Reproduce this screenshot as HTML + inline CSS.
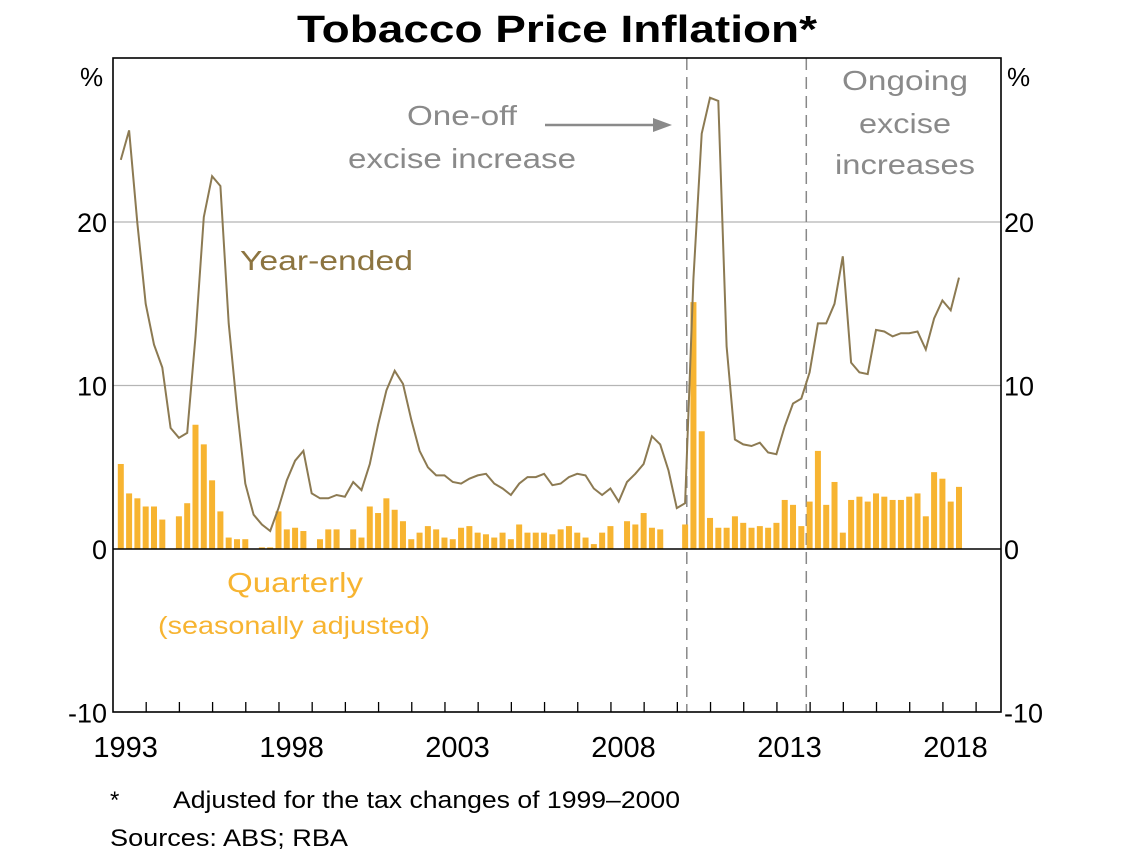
<!DOCTYPE html>
<html><head><meta charset="utf-8"><style>
html,body{margin:0;padding:0;background:#fff;}
svg{display:block;font-family:"Liberation Sans",sans-serif;}
</style></head><body>
<svg id="chart" width="1125" height="857" viewBox="0 0 1125 857" xmlns="http://www.w3.org/2000/svg">
<text x="557" y="42" text-anchor="middle" font-size="38" font-weight="bold" textLength="520" lengthAdjust="spacingAndGlyphs">Tobacco Price Inflation*</text>
<g id="grid"></g>
<g id="bars"></g>
<g id="line"></g>
<g id="axes"></g>
<g fill="#8a8a8a" font-size="28" text-anchor="middle">
<text x="462" y="125" textLength="110" lengthAdjust="spacingAndGlyphs">One-off</text>
<text x="462" y="168" textLength="228" lengthAdjust="spacingAndGlyphs">excise increase</text>
<text x="905" y="90" textLength="126" lengthAdjust="spacingAndGlyphs">Ongoing</text>
<text x="905" y="133" textLength="92" lengthAdjust="spacingAndGlyphs">excise</text>
<text x="905" y="174" textLength="140" lengthAdjust="spacingAndGlyphs">increases</text>
</g>
<g>
<line x1="545" y1="125" x2="655" y2="125" stroke="#8a8a8a" stroke-width="2.5"/>
<polygon points="653,118 672,125 653,132" fill="#8a8a8a"/>
</g>
<text x="240" y="270" font-size="28" fill="#8c7440" textLength="173" lengthAdjust="spacingAndGlyphs">Year-ended</text>
<text x="295" y="592" font-size="28" fill="#f7b431" text-anchor="middle" textLength="136" lengthAdjust="spacingAndGlyphs">Quarterly</text>
<text x="294" y="634" font-size="25" fill="#f7b431" text-anchor="middle" textLength="272" lengthAdjust="spacingAndGlyphs">(seasonally adjusted)</text>
<text x="110" y="808" font-size="24">*</text>
<text x="173" y="808" font-size="24" textLength="507" lengthAdjust="spacingAndGlyphs">Adjusted for the tax changes of 1999–2000</text>
<text x="110" y="846" font-size="24" textLength="238" lengthAdjust="spacingAndGlyphs">Sources:   ABS; RBA</text>
</svg>
<script>
const startYear = 1993;
const yTicks = [-10, 0, 10, 20];
const yearLabels = ["1993","1998","2003","2008","2013","2018"];
const quarterly = [5.2,3.4,3.1,2.6,2.6,1.8,0,2.0,2.8,7.6,6.4,4.2,2.3,0.7,0.6,0.6,0,0.1,0.1,2.3,1.2,1.3,1.1,0,0.6,1.2,1.2,0,1.2,0.7,2.6,2.2,3.1,2.4,1.7,0.6,1.0,1.4,1.2,0.7,0.6,1.3,1.4,1.0,0.9,0.7,1.0,0.6,1.5,1.0,1.0,1.0,0.9,1.2,1.4,1.0,0.7,0.3,1.0,1.4,0,1.7,1.5,2.2,1.3,1.2,0,0,1.5,15.1,7.2,1.9,1.3,1.3,2.0,1.6,1.3,1.4,1.3,1.6,3.0,2.7,1.4,2.9,6.0,2.7,4.1,1.0,3.0,3.2,2.9,3.4,3.2,3.0,3.0,3.2,3.4,2.0,4.7,4.3,2.9,3.8];
const yearEnded = [23.8,25.6,19.9,15.0,12.5,11.1,7.4,6.8,7.1,13.0,20.3,22.8,22.2,13.8,8.6,4.0,2.1,1.5,1.1,2.5,4.2,5.4,6.0,3.4,3.1,3.1,3.3,3.2,4.1,3.6,5.2,7.6,9.7,10.9,10.1,7.9,6.0,5.0,4.5,4.5,4.1,4.0,4.3,4.5,4.6,4.0,3.7,3.3,4.0,4.4,4.4,4.6,3.9,4.0,4.4,4.6,4.5,3.7,3.3,3.7,2.9,4.1,4.6,5.2,6.9,6.4,4.8,2.5,2.8,16.5,25.4,27.6,27.4,12.4,6.7,6.4,6.3,6.5,5.9,5.8,7.5,8.9,9.2,10.8,13.8,13.8,15.0,17.9,11.4,10.8,10.7,13.4,13.3,13.0,13.2,13.2,13.3,12.2,14.1,15.2,14.6,16.6];
const eventQuarters = [68.2, 82.6];

const NS="http://www.w3.org/2000/svg";
const L=113,R=1001,T=58,B=712;
const yearW=(R-L)/26.75;
function xq(i){return L+yearW/4*(i+1)-0.5;}
function yv(v){return 549-v*16.35;}
function mk(tag,attrs,parent){const e=document.createElementNS(NS,tag);for(const k in attrs)e.setAttribute(k,attrs[k]);parent.appendChild(e);return e;}
const grid=document.getElementById('grid'),bars=document.getElementById('bars'),line=document.getElementById('line'),axes=document.getElementById('axes');
yTicks.forEach(v=>{
 if(v===10||v===20){const g=mk('line',{x1:L,x2:R,y1:yv(v),y2:yv(v),stroke:'#b5b5b5','stroke-width':1.3},grid);
 
 }
 const t1=mk('text',{x:107,y:yv(v)+10,'font-size':27,'text-anchor':'end'},axes);t1.textContent=v;
 
 
 const t2=mk('text',{x:1004,y:yv(v)+10,'font-size':27},axes);t2.textContent=v;
 
 
});
const p1=mk('text',{x:80,y:86,'font-size':26},axes);p1.textContent='%';


const p2=mk('text',{x:1007,y:86,'font-size':26},axes);p2.textContent='%';


quarterly.forEach((v,i)=>{if(v<=0)return;
 const r=mk('rect',{x:xq(i)-3,y:yv(v),width:6,height:yv(0)-yv(v),fill:'#f7b431'},bars);
 
 });
const pl=mk('polyline',{points:yearEnded.map((v,i)=>xq(i).toFixed(1)+','+yv(v).toFixed(1)).join(' '),fill:'none',stroke:'#8c7a52','stroke-width':2},line);


eventQuarters.forEach(q=>{const d=mk('line',{x1:xq(q),x2:xq(q),y1:T,y2:B,stroke:'#888','stroke-width':1.5,'stroke-dasharray':'12,7'},grid);
 
 });
const z=mk('line',{x1:L,x2:R,y1:yv(0),y2:yv(0),stroke:'#000','stroke-width':1.6},axes);


const fr=mk('rect',{x:L,y:T,width:R-L,height:B-T,fill:'none',stroke:'#000','stroke-width':1.6},axes);


for(let k=1;k<27;k++){const tk=mk('line',{x1:L+k*yearW,x2:L+k*yearW,y1:B,y2:B-10,stroke:'#000','stroke-width':1.3},axes);
 
 }
yearLabels.forEach(s=>{const k=+s-startYear;
 const t=mk('text',{x:L+(k+0.5)*yearW-4,y:757,'font-size':29,'text-anchor':'middle'},axes);t.textContent=s;
 
 });
</script>
</body></html>
